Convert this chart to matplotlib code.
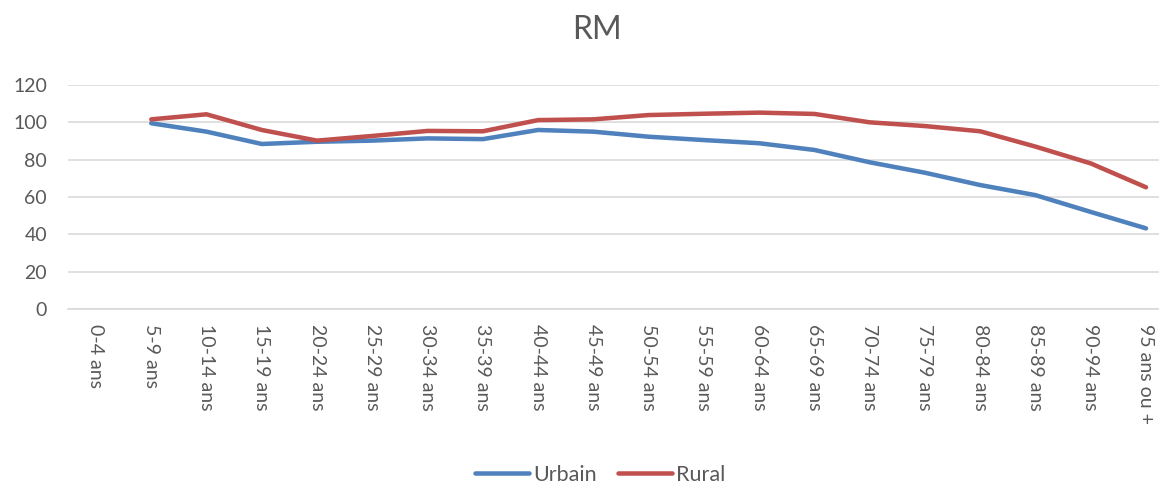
import matplotlib
matplotlib.use("Agg")
import matplotlib.pyplot as plt
import numpy as np

categories = ["0-4 ans", "5-9 ans", "10-14 ans", "15-19 ans", "20-24 ans", "25-29 ans",
              "30-34 ans", "35-39 ans", "40-44 ans", "45-49 ans", "50-54 ans", "55-59 ans",
              "60-64 ans", "65-69 ans", "70-74 ans", "75-79 ans", "80-84 ans", "85-89 ans",
              "90-94 ans", "95 ans ou +"]
urbain = [np.nan, 99.5, 95.0, 88.4, 89.6, 90.2, 91.4, 91.0, 95.9, 95.0, 92.3, 90.5,
          88.8, 85.2, 78.6, 73.0, 66.4, 61.0, 52.0, 43.2]
rural = [np.nan, 101.6, 104.3, 95.9, 90.2, 92.7, 95.4, 95.2, 101.2, 101.6, 103.9, 104.6,
         105.2, 104.5, 100.0, 98.0, 95.2, 87.0, 78.0, 65.2]
yticks = [0, 20, 40, 60, 80, 100, 120]
title = "RM"

W, H = 1159, 484
DPI = 100
plt.rcParams['font.family'] = ['Lato', 'DejaVu Sans']
txt = '#595959'
fig = plt.figure(figsize=(W / DPI, H / DPI), dpi=DPI)

def px(v):
    return v * 72.0 / DPI

ax = fig.add_axes([68 / W, 1 - 309 / H, 1 - 68 / W, (309 - 85) / H])
x = np.arange(len(categories))
l1, = ax.plot(x, urbain, color='#4F81BD', lw=px(4.5), solid_capstyle='round', solid_joinstyle='round', label='Urbain')
l2, = ax.plot(x, rural, color='#C0504D', lw=px(4.5), solid_capstyle='round', solid_joinstyle='round', label='Rural')

spacing = (1146 - 96) / 19.0
ax.set_xlim(-(96 - 68) / spacing, 19 + (1159 - 1146) / spacing)
ax.set_ylim(0, 120)
ax.set_yticks(yticks)
ax.set_yticklabels([str(v) for v in yticks], fontsize=px(19.5), color=txt)
ax.set_xticks(x)
ax.set_xticklabels(categories, rotation=-90, fontsize=px(19.5), color=txt, va='top', ha='center')
ax.tick_params(axis='both', length=0)
ax.tick_params(axis='y', pad=px(21))
ax.tick_params(axis='x', pad=px(15))
ax.grid(axis='y', color='#D9D9D9', lw=px(1.6))
ax.set_axisbelow(True)
for s in ['top', 'right', 'left']:
    ax.spines[s].set_visible(False)
ax.spines['bottom'].set_color('#D9D9D9')
ax.spines['bottom'].set_linewidth(px(1.6))

fig.text(597 / W, 1 - 30 / H, title, ha='center', va='center', fontsize=px(32), color=txt)

leg = fig.legend(handles=[l1, l2], loc='center', bbox_to_anchor=(600 / W, 1 - 475 / H),
                 ncol=2, frameon=False, fontsize=px(21.5), handlelength=2.5,
                 handletextpad=0.2, columnspacing=1.0, labelcolor=txt)

fig.savefig('out.png', dpi=DPI)
